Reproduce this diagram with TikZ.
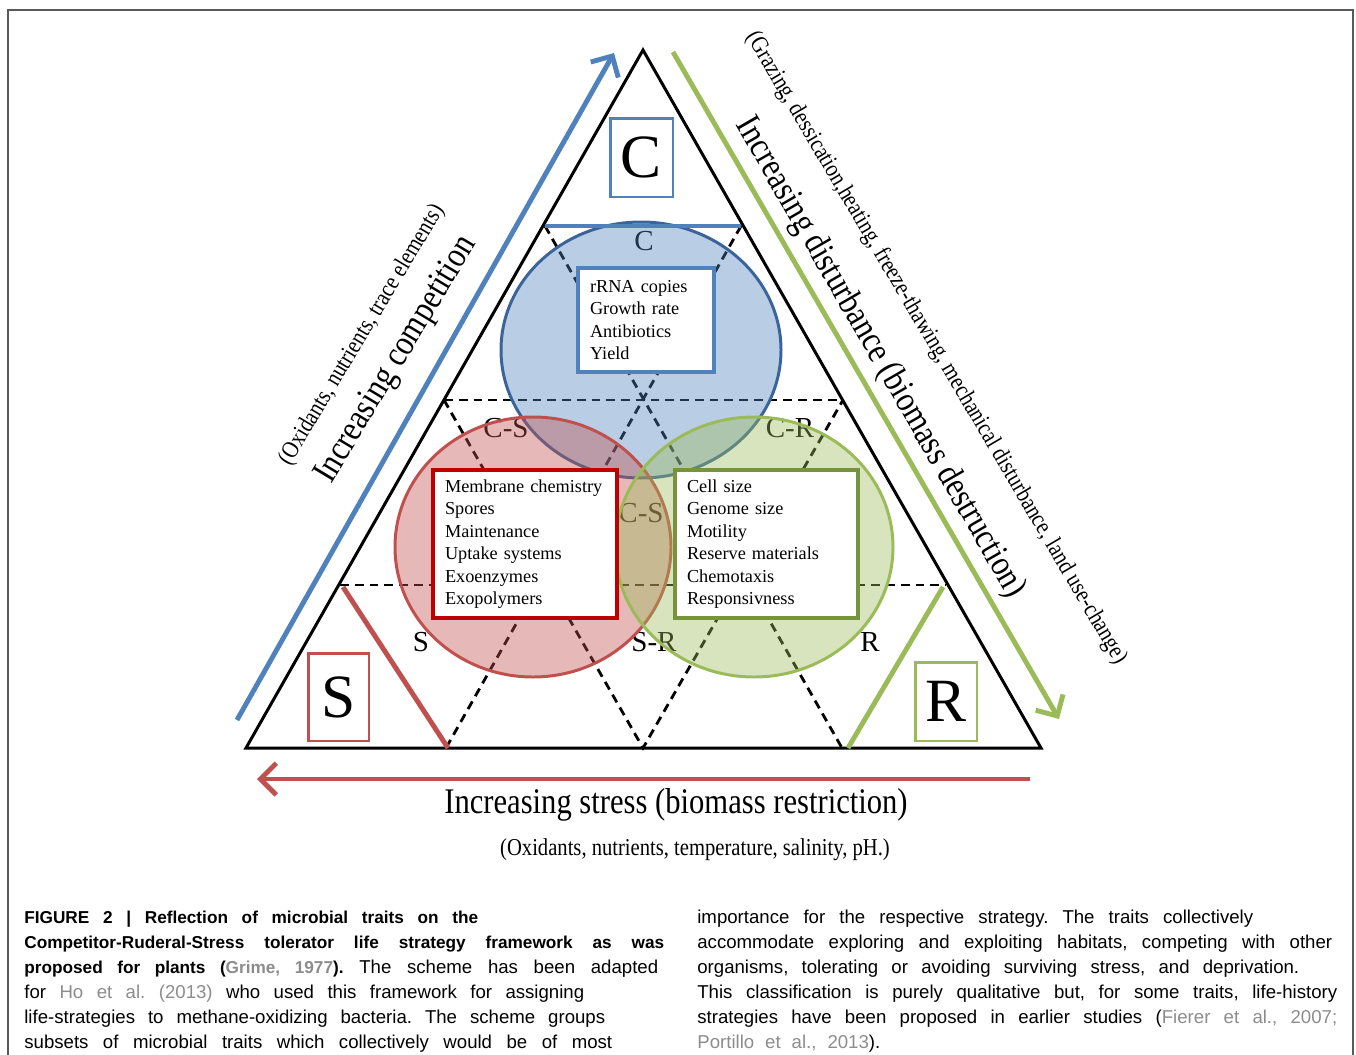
\documentclass[tikz,border=0pt]{standalone}
\usepackage{fontspec}
\setmainfont{Liberation Serif}
\newfontfamily\narrowserif[FakeStretch=0.85]{Liberation Serif}
\newfontfamily\capfont{Liberation Sans}
\usetikzlibrary{arrows.meta}
\frenchspacing

\definecolor{cblue}{HTML}{4F81BD}
\definecolor{cbluedark}{HTML}{3B659A}
\definecolor{cred}{HTML}{C0504D}
\definecolor{credbox}{HTML}{C00000}
\definecolor{cgreen}{HTML}{9BBB59}
\definecolor{cgreenbox}{HTML}{77933C}
\definecolor{citegray}{HTML}{8C8C8C}

\def\bluecircle{(641,350) ellipse [x radius=140, y radius=128]}
\def\redcircle{(533,547) ellipse [x radius=138, y radius=130]}
\def\greencircle{(754,547) ellipse [x radius=139, y radius=130]}
\def\capbold{\fontsize{9.8}{12}\selectfont\bfseries}

\begin{document}
\begin{tikzpicture}[x=0.02cm,y=-0.02cm,
  tri/.style={line width=1.7pt},
  grid/.style={line width=1.6pt, dash pattern=on 5pt off 3.4pt},
  edgebar/.style={line width=2.8pt},
  trend/.style={line width=2.8pt, -{Straight Barb[length=9pt,width=18pt]}},
  region/.style={font=\fontsize{16.5}{16.5}\selectfont, inner sep=0pt},
  traitbox/.style={draw=#1, fill=white, line width=2pt, align=left, inner xsep=0.24cm,
    font=\fontsize{10.4}{12.8}\selectfont},
  letterbox/.style={draw=#1, line width=1.7pt, inner sep=0pt, font=\fontsize{35}{35}\selectfont},
  bigtitle/.style={font=\narrowserif\fontsize{20.5}{20.5}\selectfont, inner sep=0pt},
  subtitle/.style={font=\narrowserif\fontsize{13.8}{13.8}\selectfont, inner sep=0pt},
  capline/.style={anchor=base west, inner sep=0pt, font=\capfont\fontsize{10.6}{12}\selectfont}]

\useasboundingbox (0,0) rectangle (1356,1055);
\draw[gray!70!black, line width=0.6pt] (8,1055) -- (8,10) -- (1353,10) -- (1353,1055);

% triangle and its subdivisions
\coordinate (apex) at (643,50);
\coordinate (left) at (246,748);
\coordinate (right) at (1041,748);
\coordinate (L1) at (340,585);
\coordinate (R1) at (946,585);
\coordinate (L2) at (444,400);
\coordinate (R2) at (843,400);
\coordinate (L3) at (545,226);
\coordinate (R3) at (741,226);
\coordinate (B1) at (446,748);
\coordinate (B2) at (643,748);
\coordinate (B3) at (842,748);
\draw[tri] (apex) -- (right) -- (left) -- cycle;
\draw[grid] (L1) -- (R1);
\draw[grid] (L2) -- (R2);
\draw[grid] (L3) -- (B3);
\draw[grid] (R3) -- (B1);
\draw[grid] (L2) -- (B2) -- (R2);

\node[region] (regc) at (644,241) {C};
\node[region] (regcs) at (506,428) {C-S};
\node[region] (regcr) at (790,428) {C-R};
\node[region] (regcsr) at (641,513) {C-S};
\node[region] (regs) at (421,642) {S};
\node[region] (regsr) at (654,642) {S-R};
\node[region] (regr) at (870,642) {R};

\fill[cblue, opacity=0.4] \bluecircle;
\draw[cbluedark, line width=1.7pt] \bluecircle;
\fill[cred, opacity=0.4] \redcircle;
\draw[cred, line width=1.7pt] \redcircle;
\fill[cgreen, opacity=0.4] \greencircle;
\draw[cgreen, line width=1.7pt] \greencircle;

\coordinate (sTop) at (343,587);
\coordinate (sBot) at (448,748);
\coordinate (rTop) at (943,587);
\coordinate (rBot) at (848,748);
\draw[edgebar, cblue] (L3) -- (R3);
\draw[edgebar, cred] (sTop) -- (sBot);
\draw[edgebar, cgreen] (rTop) -- (rBot);

\node[traitbox=cblue, text width=2.24cm, minimum height=2.08cm] (ctraits) at (646,320)
  {rRNA copies\\Growth rate\\Antibiotics\\Yield};
\node[traitbox=credbox, line width=2.3pt, text width=3.2cm, minimum height=2.96cm] (straits) at (525,544)
  {Membrane chemistry\\Spores\\Maintenance\\Uptake systems\\Exoenzymes\\Exopolymers};
\node[traitbox=cgreenbox, line width=2.3pt, text width=3.18cm, minimum height=2.96cm] (rtraits) at (766.5,544)
  {Cell size\\Genome size\\Motility\\Reserve materials\\Chemotaxis\\Responsivness};

\node[letterbox=cblue, minimum width=1.26cm, minimum height=1.58cm] (boxc) at (641.5,157.5) {C};
\node[letterbox=cred, minimum width=1.22cm, minimum height=1.76cm] (boxs) at (338.5,697) {S};
\node[letterbox=cgreen, minimum width=1.24cm, minimum height=1.58cm] (boxr) at (946,701.5) {R};

% trend arrows
\coordinate (compA) at (237,720);
\coordinate (compB) at (614,53);
\coordinate (distA) at (673,52);
\coordinate (distB) at (1059,719);
\coordinate (stresA) at (1030,779);
\coordinate (stresB) at (257,779);
\draw[trend, cblue] (compA) -- (compB);
\draw[trend, cgreen] (distA) -- (distB);
\draw[trend, cred] (stresA) -- (stresB);

\node[bigtitle, rotate=59] (comp) at (397,360) {Increasing competition};
\node[subtitle, rotate=59] (compnote) at (362,335) {(Oxidants, nutrients, trace elements)};
\node[bigtitle, rotate=-60] (dist) at (880,358) {Increasing disturbance (biomass destruction)};
\node[subtitle, rotate=-59.5] (distnote) at (936,348)
  {(Grazing, dessication,heating, freeze-thawing, mechanical disturbance, land use-change)};
\node[bigtitle] (stress) at (676,805) {Increasing stress (biomass restriction)};
\node[subtitle] (stressnote) at (695,850) {(Oxidants, nutrients, temperature, salinity, pH.)};

% caption
\node[capline] (capl1) at (24,923) {\makebox[9.08cm][s]{\capbold FIGURE 2 | Reflection of microbial traits on the}};
\node[capline] (capl2) at (24,948) {\makebox[12.8cm][s]{\capbold Competitor-Ruderal-Stress tolerator life strategy framework as was}};
\node[capline] (capl3) at (24,973) {\makebox[12.68cm][s]{{\capbold proposed for plants ({\color{citegray}Grime, 1977}).} The scheme has been adapted}};
\node[capline] (capl4) at (24,998) {\makebox[11.2cm][s]{for {\color{citegray}Ho et al. (2013)} who used this framework for assigning}};
\node[capline] (capl5) at (24,1023) {\makebox[11.62cm][s]{life-strategies to methane-oxidizing bacteria. The scheme groups}};
\node[capline] (capl6) at (24,1048) {\makebox[11.76cm][s]{subsets of microbial traits which collectively would be of most}};
\node[capline] (capr1) at (697,923) {\makebox[11.12cm][s]{importance for the respective strategy. The traits collectively}};
\node[capline] (capr2) at (697,948) {\makebox[12.7cm][s]{accommodate exploring and exploiting habitats, competing with other}};
\node[capline] (capr3) at (697,973) {\makebox[12.04cm][s]{organisms, tolerating or avoiding surviving stress, and deprivation.}};
\node[capline] (capr4) at (697,998) {\makebox[12.8cm][s]{This classification is purely qualitative but, for some traits, life-history}};
\node[capline] (capr5) at (697,1023) {\makebox[12.8cm][s]{strategies have been proposed in earlier studies ({\color{citegray}Fierer et al., 2007;}}};
\node[capline] (capr6) at (697,1048) {\makebox[3.66cm][s]{{\color{citegray}Portillo et al., 2013}).}};
\end{tikzpicture}
\end{document}
